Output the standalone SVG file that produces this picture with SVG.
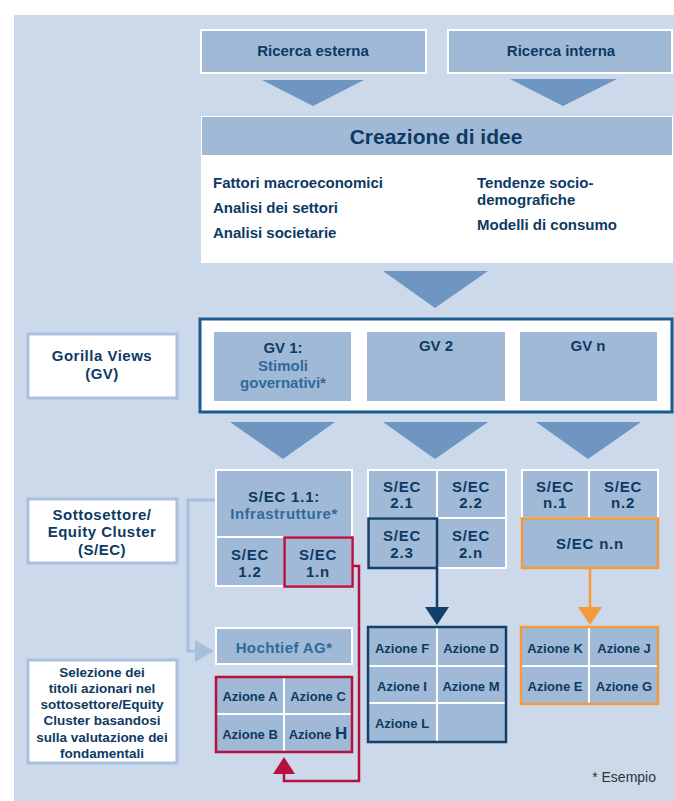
<svg xmlns="http://www.w3.org/2000/svg" width="674" height="801" viewBox="0 0 674 801">
<style>
text{font-family:"Liberation Sans",Arial,sans-serif;font-weight:bold;fill:#0d3a63;text-anchor:middle}
.cell{fill:#a0b9d7;stroke:#fff;stroke-width:2}
.tri{fill:#6e96c1}
.t15{font-size:15px}
.t14{font-size:15px;letter-spacing:0.5px}
.t13{font-size:13px}
.sec{font-size:15px;letter-spacing:0.8px}
.lt{fill:#2f6a9a}
.lbl{fill:#fff;stroke:#a9c1de;stroke-width:3}
.red{fill:none;stroke:#b8103e;stroke-width:2.5}
.dark{fill:none;stroke:#133f69;stroke-width:2.5}
.org{fill:none;stroke:#f39a3a;stroke-width:2.5}
.wl{stroke:#fff;stroke-width:2}
.ls{text-anchor:start}
</style>
<rect x="14" y="15" width="660" height="786" fill="#ccd9ea"/>

<g id="ricerca-esterna">
<rect class="cell" x="201" y="30" width="225" height="43"/>
<text class="t15" x="313" y="56">Ricerca esterna</text>
</g>
<g id="ricerca-interna">
<rect class="cell" x="448" y="30" width="224" height="43"/>
<text class="t15" x="561" y="56">Ricerca interna</text>
</g>

<g id="creazione">
<rect x="201" y="116" width="472" height="147" fill="#fff"/>
<rect x="202" y="117" width="470" height="38" fill="#a0b9d7"/>
<text x="436" y="144" style="font-size:21px">Creazione di idee</text>
<text class="t15 ls" x="213" y="188">Fattori macroeconomici</text>
<text class="t15 ls" x="213" y="213">Analisi dei settori</text>
<text class="t15 ls" x="213" y="238">Analisi societarie</text>
<text class="t15 ls" x="477" y="188">Tendenze socio-</text>
<text class="t15 ls" x="477" y="205">demografiche</text>
<text class="t15 ls" x="477" y="230">Modelli di consumo</text>
</g>

<g id="gorilla-views-label">
<rect class="lbl" x="28" y="334" width="149" height="64"/>
<text class="t14" x="102" y="361">Gorilla Views</text>
<text class="t14" x="102" y="379">(GV)</text>
</g>

<g id="gv-container">
<rect x="200" y="319" width="472" height="93" fill="#fff" stroke="#1b5a8c" stroke-width="3"/>
</g>
<g id="gv1">
<rect x="214" y="332" width="137" height="69" fill="#a0b9d7"/>
<text class="t15" x="283" y="353">GV 1:</text>
<text class="t15 lt" x="283" y="371">Stimoli</text>
<text class="t15 lt" x="283" y="388">governativi*</text>
</g>
<g id="gv2">
<rect x="367" y="332" width="138" height="69" fill="#a0b9d7"/>
<text class="t15" x="436" y="351">GV 2</text>
</g>
<g id="gvn">
<rect x="520" y="332" width="137" height="69" fill="#a0b9d7"/>
<text class="t15" x="588" y="351">GV n</text>
</g>

<g id="sec-label">
<rect class="lbl" x="28" y="499" width="149" height="64"/>
<text class="t14" x="102" y="520">Sottosettore/</text>
<text class="t14" x="102" y="537">Equity Cluster</text>
<text class="t14" x="102" y="555">(S/EC)</text>
</g>

<g id="sec1">
<rect class="cell" x="216" y="470" width="136" height="67"/>
<text class="sec" x="284" y="502">S/EC 1.1:</text>
<text class="t15 lt" x="284" y="519" style="letter-spacing:0.5px">Infrastrutture*</text>
<rect class="cell" x="216" y="537" width="68" height="49"/>
<text class="sec" x="250" y="560">S/EC</text>
<text class="sec" x="250" y="577">1.2</text>
<rect class="cell" x="284" y="537" width="68" height="49"/>
<rect class="red" x="284.5" y="537.5" width="68" height="49"/>
<text class="sec" x="318" y="560">S/EC</text>
<text class="sec" x="318" y="577">1.n</text>
</g>

<g id="sec2">
<rect class="cell" x="368" y="470" width="69" height="48"/>
<rect class="cell" x="437" y="470" width="69" height="48"/>
<rect class="cell" x="368" y="518" width="69" height="50"/>
<rect class="cell" x="437" y="518" width="69" height="50"/>
<rect class="dark" x="368.5" y="518.5" width="68.5" height="49.5"/>
<text class="sec" x="402" y="492">S/EC</text>
<text class="sec" x="402" y="508">2.1</text>
<text class="sec" x="471" y="492">S/EC</text>
<text class="sec" x="471" y="508">2.2</text>
<text class="sec" x="402" y="541">S/EC</text>
<text class="sec" x="402" y="558">2.3</text>
<text class="sec" x="471" y="541">S/EC</text>
<text class="sec" x="471" y="558">2.n</text>
</g>

<g id="secn">
<rect class="cell" x="522" y="470" width="67" height="48"/>
<rect class="cell" x="589" y="470" width="69" height="48"/>
<rect class="cell" x="522" y="518" width="136" height="50"/>
<rect class="org" x="522" y="518.5" width="136" height="49.5"/>
<text class="sec" x="555" y="492">S/EC</text>
<text class="sec" x="555" y="508">n.1</text>
<text class="sec" x="623" y="492">S/EC</text>
<text class="sec" x="623" y="508">n.2</text>
<text class="sec" x="590" y="549">S/EC n.n</text>
</g>

<g id="hochtief">
<rect class="cell" x="216" y="628" width="136" height="36"/>
<text class="t15 lt" x="284" y="653" style="letter-spacing:0.4px">Hochtief AG*</text>
</g>

<g id="azioni-1">
<rect x="216" y="677" width="136" height="75" fill="#a0b9d7"/>
<line class="wl" x1="284" y1="677" x2="284" y2="752"/>
<line class="wl" x1="216" y1="714" x2="352" y2="714"/>
<rect class="red" x="216" y="677" width="136" height="75"/>
<text class="t13" x="250" y="701">Azione A</text>
<text class="t13" x="318" y="701">Azione C</text>
<text class="t13" x="250" y="739">Azione B</text>
<text class="t13" x="318" y="739">Azione <tspan style="font-size:17px">H</tspan></text>
</g>

<g id="azioni-2">
<rect x="368" y="627" width="138" height="115" fill="#a0b9d7"/>
<line class="wl" x1="437" y1="627" x2="437" y2="742"/>
<line class="wl" x1="368" y1="666" x2="506" y2="666"/>
<line class="wl" x1="368" y1="703" x2="506" y2="703"/>
<rect class="dark" x="368" y="627" width="138" height="115"/>
<text class="t13" x="402" y="653">Azione F</text>
<text class="t13" x="471" y="653">Azione D</text>
<text class="t13" x="402" y="691">Azione I</text>
<text class="t13" x="471" y="691">Azione M</text>
<text class="t13" x="402" y="728">Azione L</text>
</g>

<g id="azioni-n">
<rect x="521" y="627" width="137" height="77" fill="#a0b9d7"/>
<line class="wl" x1="589" y1="627" x2="589" y2="704"/>
<line class="wl" x1="521" y1="666" x2="658" y2="666"/>
<rect class="org" x="521" y="627" width="137" height="77"/>
<text class="t13" x="555" y="653">Azione K</text>
<text class="t13" x="624" y="653">Azione J</text>
<text class="t13" x="555" y="691">Azione E</text>
<text class="t13" x="624" y="691">Azione G</text>
</g>

<g id="selezione-label">
<rect class="lbl" x="28" y="660" width="149" height="103"/>
<text class="t13" x="102" y="677" style="font-size:13.5px">Selezione dei</text>
<text class="t13" x="102" y="693" style="font-size:13.5px">titoli azionari nel</text>
<text class="t13" x="102" y="709" style="font-size:13.5px">sottosettore/Equity</text>
<text class="t13" x="102" y="725" style="font-size:13.5px">Cluster basandosi</text>
<text class="t13" x="102" y="742" style="font-size:13.5px">sulla valutazione dei</text>
<text class="t13" x="102" y="758" style="font-size:13.5px">fondamentali</text>
</g>

<g id="connectors">
<polygon class="tri" points="262,80 364,80 313,106"/>
<polygon class="tri" points="510,79 617,79 563,106"/>
<polygon class="tri" points="383,271 488,271 435,308"/>
<polygon class="tri" points="230,422 335,422 283,459"/>
<polygon class="tri" points="383,422 488,422 435,459"/>
<polygon class="tri" points="536,422 641,422 588,459"/>
<polyline points="215,500 188,500 188,651 197,651" fill="none" stroke="#a6bfdc" stroke-width="3"/>
<polygon points="195,640 195,662 214,651" fill="#a6bfdc"/>
<polyline points="353,566 359,566 359,781 284,781 284,772" fill="none" stroke="#b8103e" stroke-width="2.5"/>
<polygon points="273,774 295,774 284,757" fill="#b8103e"/>
<line x1="437" y1="568" x2="437" y2="609" stroke="#133f69" stroke-width="2.5"/>
<polygon points="425,607 449,607 437,625" fill="#133f69"/>
<line x1="590" y1="568" x2="590" y2="609" stroke="#f39a3a" stroke-width="2.5"/>
<polygon points="578,607 602,607 590,625" fill="#f39a3a"/>
</g>

<text x="656" y="782" style="font-weight:normal;font-size:14px;fill:#333;text-anchor:end">* Esempio</text>
</svg>
